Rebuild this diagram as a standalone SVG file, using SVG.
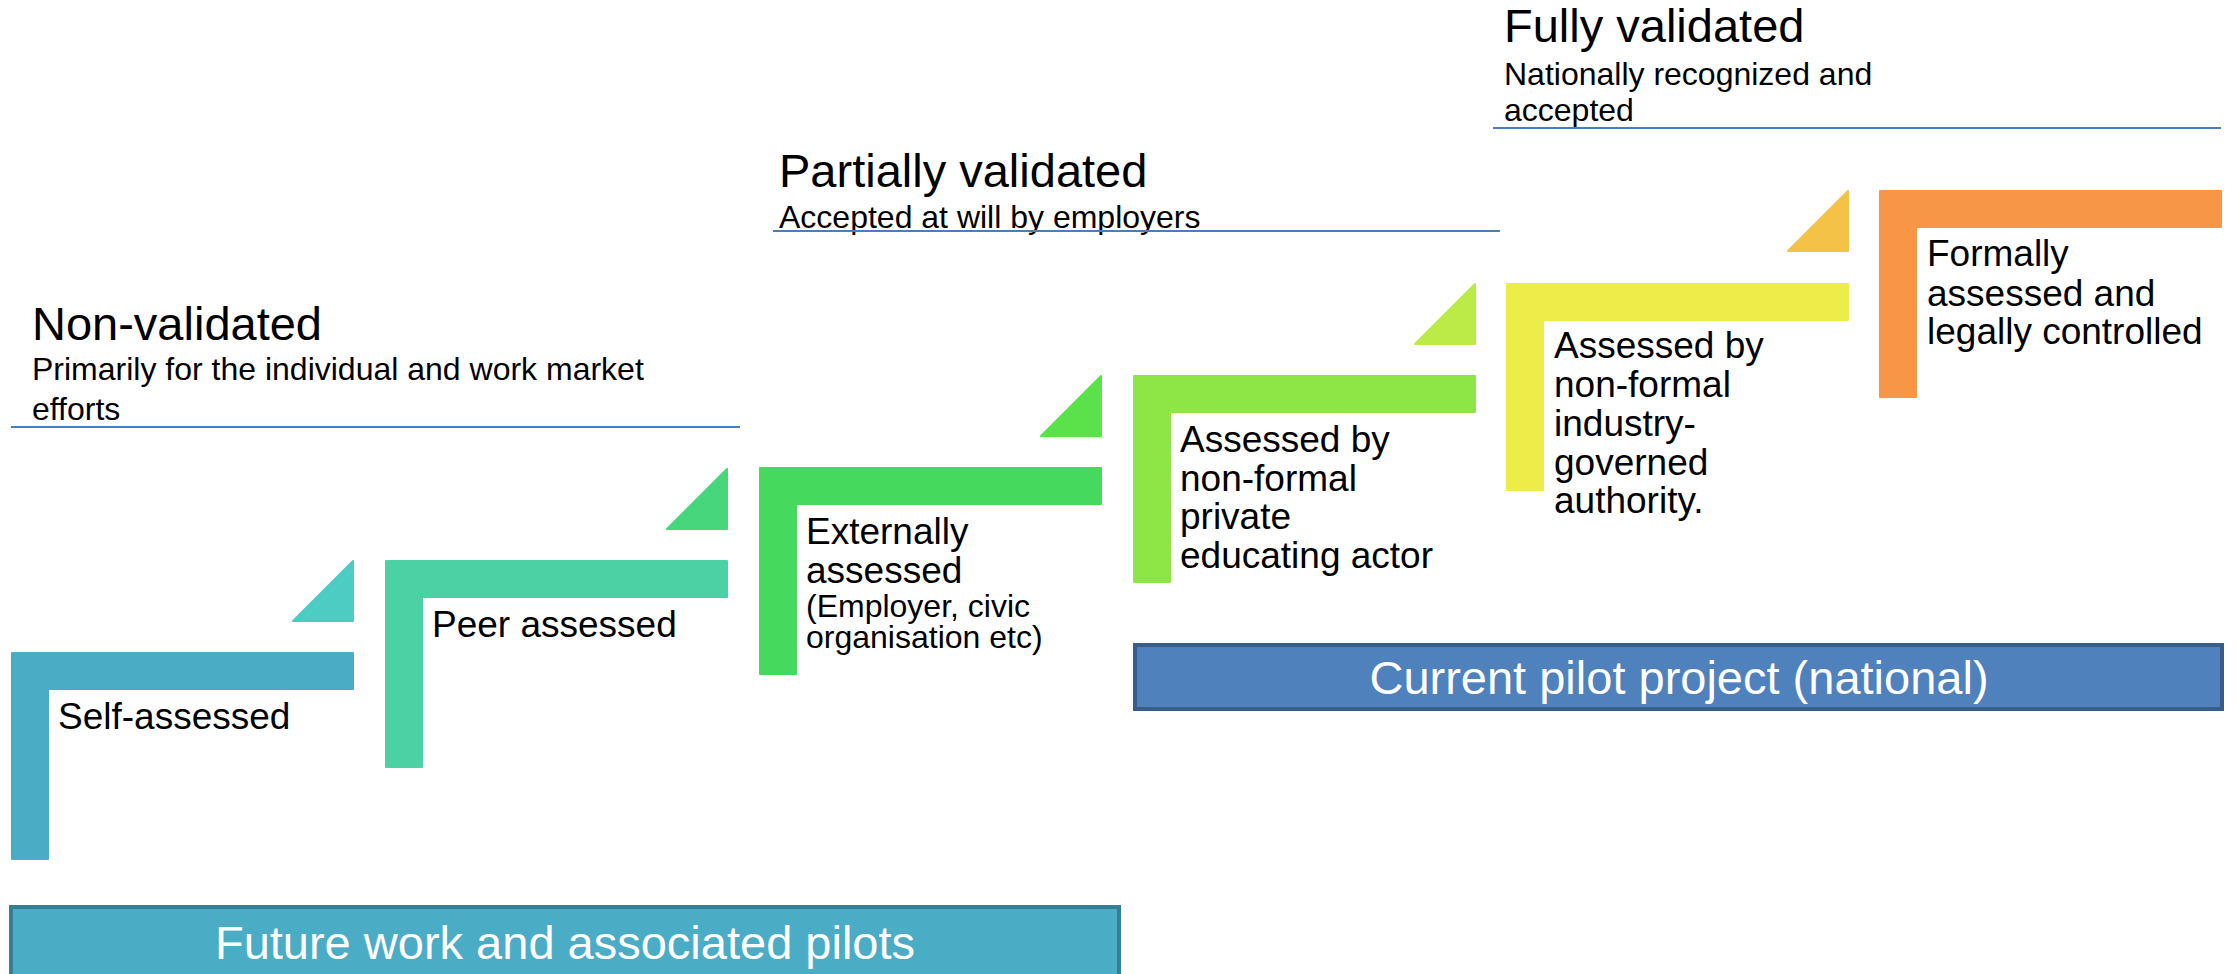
<svg xmlns="http://www.w3.org/2000/svg" xmlns:xlink="http://www.w3.org/1999/xlink" width="2236" height="974" viewBox="0 0 2236 974">
<style>
text{font-family:"Liberation Sans",Arial,sans-serif;fill:#000}
.h{font-size:47px}
.sub{font-size:32px}
.lbl{font-size:37px}
.sm{font-size:32px}
.box{font-size:47px;fill:#fff;text-anchor:middle}
.rule{stroke:#4A7EBB;stroke-width:2;fill:none}
.shape{stroke-linejoin:round;stroke-width:2}
</style>
<defs>
<path id="L" d="M1,1 H342 V37 H37 V207 H1 Z"/>
<path id="T" d="M61,1 V61 H1 Z"/>
</defs>
<rect width="2236" height="974" fill="#fff"/>

<g id="header-non-validated">
<text class="h" x="32" y="340">Non-validated</text>
<text class="sub" x="32" y="380">Primarily for the individual and work market</text>
<text class="sub" x="32" y="420">efforts</text>
<line class="rule" x1="11" y1="427" x2="740" y2="427"/>
</g>
<g id="header-partially-validated">
<text class="h" x="779" y="187">Partially validated</text>
<text class="sub" x="779" y="228">Accepted at will by employers</text>
<line class="rule" x1="773" y1="231" x2="1500" y2="231"/>
</g>
<g id="header-fully-validated">
<text class="h" x="1504" y="42">Fully validated</text>
<text class="sub" x="1504" y="85">Nationally recognized and</text>
<text class="sub" x="1504" y="121">accepted</text>
<line class="rule" x1="1493" y1="128" x2="2221" y2="128"/>
</g>

<g id="step1">
<use href="#L" x="11" y="652" fill="#4BACC6" stroke="#4BACC6" class="shape"/>
<text class="lbl" x="58" y="729">Self-assessed</text>
</g>
<g id="arrow1"><use href="#T" x="292" y="560" fill="#4DCCC4" stroke="#4DCCC4" class="shape"/></g>

<g id="step2">
<use href="#L" x="385" y="560" fill="#4BD1A3" stroke="#4BD1A3" class="shape"/>
<text class="lbl" x="432" y="637">Peer assessed</text>
</g>
<g id="arrow2"><use href="#T" x="666" y="468" fill="#47D67B" stroke="#47D67B" class="shape"/></g>

<g id="step3">
<use href="#L" x="759" y="467" fill="#45DA5E" stroke="#45DA5E" class="shape"/>
<text class="lbl" x="806" y="544">Externally</text>
<text class="lbl" x="806" y="583">assessed</text>
<text class="sm" x="806" y="617">(Employer, civic</text>
<text class="sm" x="806" y="648">organisation etc)</text>
</g>
<g id="arrow3"><use href="#T" x="1040" y="375" fill="#5BE14A" stroke="#5BE14A" class="shape"/></g>

<g id="step4">
<use href="#L" x="1133" y="375" fill="#8EE646" stroke="#8EE646" class="shape"/>
<text class="lbl" x="1180" y="452">Assessed by</text>
<text class="lbl" x="1180" y="491">non-formal</text>
<text class="lbl" x="1180" y="529">private</text>
<text class="lbl" x="1180" y="568">educating actor</text>
</g>
<g id="arrow4"><use href="#T" x="1414" y="283" fill="#BCEA47" stroke="#BCEA47" class="shape"/></g>

<g id="step5">
<use href="#L" x="1506" y="283" fill="#EDED4A" stroke="#EDED4A" class="shape"/>
<text class="lbl" x="1554" y="358">Assessed by</text>
<text class="lbl" x="1554" y="397">non-formal</text>
<text class="lbl" x="1554" y="436">industry-</text>
<text class="lbl" x="1554" y="475">governed</text>
<text class="lbl" x="1554" y="513">authority.</text>
</g>
<g id="arrow5"><use href="#T" x="1787" y="190" fill="#F3C247" stroke="#F3C247" class="shape"/></g>

<g id="step6">
<use href="#L" x="1879" y="190" fill="#F79647" stroke="#F79647" class="shape"/>
<text class="lbl" x="1927" y="266">Formally</text>
<text class="lbl" x="1927" y="306">assessed and</text>
<text class="lbl" x="1927" y="344">legally controlled</text>
</g>

<g id="current-pilot">
<rect x="1135" y="645" width="1087" height="64" fill="#4F81BD" stroke="#385D8A" stroke-width="4"/>
<text class="box" x="1679" y="694">Current pilot project (national)</text>
</g>
<g id="future-work">
<rect x="11" y="907" width="1108" height="90" fill="#4BACC6" stroke="#357F94" stroke-width="4"/>
<text class="box" x="565" y="959">Future work and associated pilots</text>
</g>
<g id="connectors"></g>
</svg>
